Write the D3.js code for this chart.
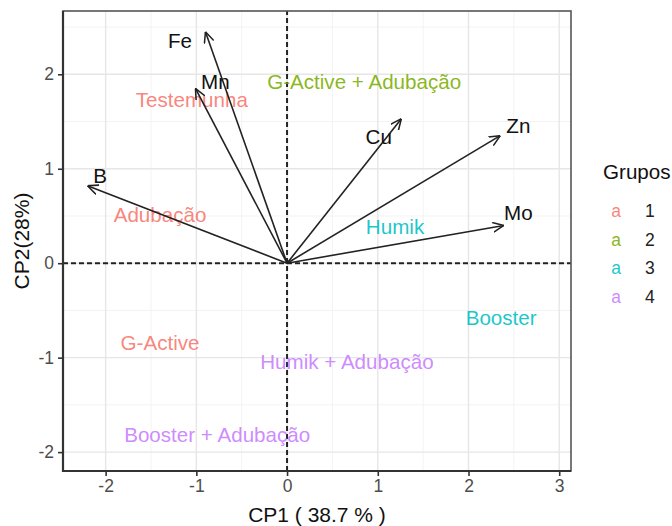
<!DOCTYPE html>
<html>
<head>
<meta charset="utf-8">
<script src="https://cdn.jsdelivr.net/npm/d3@7"></script>
<style>
  body { margin: 0; background: #fff; }
  text { font-family: "Liberation Sans", Arial, sans-serif; }
</style>
</head>
<body>
<svg width="672" height="526"></svg>
<script>
'use strict';

// variaveis (vetores)
var vars = ['Fe', 'Mn', 'B', 'Cu', 'Zn', 'Mo'];
var loadX = [-0.90, -1.01, -2.20, 1.26, 2.35, 2.39];
var loadY = [2.45, 1.85, 0.82, 1.53, 1.35, 0.40];
var varLabX = [-1.18, -0.79, -2.06, 1.01, 2.55, 2.55];
var varLabY = [2.36, 1.92, 0.93, 1.34, 1.46, 0.54];

// tratamentos
var treatments = ['Testemunha', 'Adubação', 'G-Active + Adubação', 'Humik', 'Booster',
    'G-Active', 'Humik + Adubação', 'Booster + Adubação'];
var cp1 = [-1.05, -1.40, 0.85, 1.19, 2.36, -1.40, 0.66, -0.77];
var cp2 = [1.73, 0.51, 1.92, 0.39, -0.58, -0.84, -1.04, -1.81];
var grupo = ['1', '1', '2', '3', '3', '1', '4', '4'];

var grupos = ['1', '2', '3', '4'];
var cores = ['#F8766D', '#7CAE00', '#00BFC4', '#C77CFF'];

var xTicks = [-2, -1, 0, 1, 2, 3];
var yTicks = [-2, -1, 0, 1, 2];
var xMinor = [-1.5, -0.5, 0.5, 1.5, 2.5];
var yMinor = [-1.5, -0.5, 0.5, 1.5, 2.5];

var svg = d3.select('svg');

var x = d3.scaleLinear().domain([-2.47, 3.13]).range([63, 571]);
var y = d3.scaleLinear().domain([-2.2, 2.67]).range([471, 11]);
var cor = d3.scaleOrdinal().domain(grupos).range(cores);

// grade
var grid = svg.append('g');
grid.selectAll('.vmin').data(xMinor).enter().append('line')
    .attr('x1', function (d) { return x(d); }).attr('x2', function (d) { return x(d); })
    .attr('y1', y.range()[0]).attr('y2', y.range()[1])
    .attr('stroke', '#f3f3f3').attr('stroke-width', 1);
grid.selectAll('.hmin').data(yMinor).enter().append('line')
    .attr('y1', function (d) { return y(d); }).attr('y2', function (d) { return y(d); })
    .attr('x1', x.range()[0]).attr('x2', x.range()[1])
    .attr('stroke', '#f3f3f3').attr('stroke-width', 1);
grid.selectAll('.vmaj').data(xTicks).enter().append('line')
    .attr('x1', function (d) { return x(d); }).attr('x2', function (d) { return x(d); })
    .attr('y1', y.range()[0]).attr('y2', y.range()[1])
    .attr('stroke', '#e6e6e6').attr('stroke-width', 1.4);
grid.selectAll('.hmaj').data(yTicks).enter().append('line')
    .attr('y1', function (d) { return y(d); }).attr('y2', function (d) { return y(d); })
    .attr('x1', x.range()[0]).attr('x2', x.range()[1])
    .attr('stroke', '#e6e6e6').attr('stroke-width', 1.4);

// linhas tracejadas em zero
svg.append('line')
    .attr('x1', x(0)).attr('x2', x(0)).attr('y1', y.range()[0]).attr('y2', y.range()[1])
    .attr('stroke', '#222').attr('stroke-width', 2).attr('stroke-dasharray', '5,3');
svg.append('line')
    .attr('y1', y(0)).attr('y2', y(0)).attr('x1', x.range()[0]).attr('x2', x.range()[1])
    .attr('stroke', '#222').attr('stroke-width', 2).attr('stroke-dasharray', '5,3');

// nomes dos tratamentos
svg.append('g')
    .selectAll('text')
    .data(treatments)
    .enter()
    .append('text')
    .text(function (d) { return d; })
    .attr('x', function (d, i) { return x(cp1[i]); })
    .attr('y', function (d, i) { return y(cp2[i]); })
    .attr('dy', '0.36em')
    .attr('text-anchor', 'middle')
    .attr('font-size', '20.6px')
    .attr('fill', function (d, i) { return cor(grupo[i]); })
    .attr('fill-opacity', 0.9);

// setas
svg.append('defs').append('marker')
    .attr('id', 'seta')
    .attr('viewBox', '0 0 10 10')
    .attr('refX', 10).attr('refY', 5)
    .attr('markerUnits', 'userSpaceOnUse')
    .attr('markerWidth', 11).attr('markerHeight', 11)
    .attr('orient', 'auto')
    .append('path')
    .attr('d', 'M0,0.5 L10,5 L0,9.5')
    .attr('fill', 'none')
    .attr('stroke', '#222')
    .attr('stroke-width', 1.4);

svg.append('g')
    .selectAll('line')
    .data(vars)
    .enter()
    .append('line')
    .attr('x1', x(0)).attr('y1', y(0))
    .attr('x2', function (d, i) { return x(loadX[i]); })
    .attr('y2', function (d, i) { return y(loadY[i]); })
    .attr('stroke', '#222')
    .attr('stroke-width', 1.6)
    .attr('marker-end', 'url(#seta)');

svg.append('g')
    .selectAll('text')
    .data(vars)
    .enter()
    .append('text')
    .text(function (d) { return d; })
    .attr('x', function (d, i) { return x(varLabX[i]); })
    .attr('y', function (d, i) { return y(varLabY[i]); })
    .attr('dy', '0.36em')
    .attr('text-anchor', 'middle')
    .attr('font-size', '20.6px')
    .attr('fill', '#111');

// borda do painel
svg.append('rect')
    .attr('x', x.range()[0]).attr('y', y.range()[1])
    .attr('width', x.range()[1] - x.range()[0])
    .attr('height', y.range()[0] - y.range()[1])
    .attr('fill', 'none').attr('stroke', '#555').attr('stroke-width', 1.6);
svg.append('path')
    .attr('d', 'M' + x.range()[0] + ',' + y.range()[1] + ' V' + y.range()[0] + ' H' + x.range()[1])
    .attr('fill', 'none').attr('stroke', '#333').attr('stroke-width', 2.2);

// eixos
var xAxis = svg.append('g')
    .attr('transform', 'translate(0,' + y.range()[0] + ')')
    .call(d3.axisBottom(x).tickValues(xTicks).tickSize(5).tickPadding(4).tickFormat(d3.format('d')));
var yAxis = svg.append('g')
    .attr('transform', 'translate(' + x.range()[0] + ',0)')
    .call(d3.axisLeft(y).tickValues(yTicks).tickSize(5).tickPadding(4).tickFormat(d3.format('d')));
[xAxis, yAxis].forEach(function (a) {
    a.select('.domain').remove();
    a.selectAll('.tick line').attr('stroke', '#333').attr('stroke-width', 1.6);
    a.selectAll('.tick text').attr('font-size', '17.5px').attr('fill', '#4d4d4d')
        .attr('font-family', '"Liberation Sans", Arial, sans-serif');
});
yAxis.selectAll('.tick text').text(function (d) { return d < 0 ? '-' + Math.abs(d) : d; });
xAxis.selectAll('.tick text').text(function (d) { return d < 0 ? '-' + Math.abs(d) : d; });

// titulos dos eixos
svg.append('text')
    .text('CP1 ( 38.7 % )')
    .attr('x', (x.range()[0] + x.range()[1]) / 2)
    .attr('y', 522)
    .attr('text-anchor', 'middle')
    .attr('font-size', '21px')
    .attr('fill', '#111');
svg.append('text')
    .text('CP2(28%)')
    .attr('transform', 'translate(29,' + ((y.range()[0] + y.range()[1]) / 2) + ') rotate(-90)')
    .attr('text-anchor', 'middle')
    .attr('font-size', '21px')
    .attr('fill', '#111');

// legenda
var leg = svg.append('g').attr('transform', 'translate(603,0)');
leg.append('text')
    .text('Grupos')
    .attr('x', 0).attr('y', 172)
    .attr('dy', '0.36em')
    .attr('font-size', '20.6px')
    .attr('fill', '#111');
var item = leg.selectAll('.item')
    .data(grupos)
    .enter()
    .append('g')
    .attr('transform', function (d, i) { return 'translate(0,' + (211 + i * 28.5) + ')'; });
item.append('text')
    .text('a')
    .attr('x', 13).attr('dy', '0.36em')
    .attr('text-anchor', 'middle')
    .attr('font-size', '17.5px')
    .attr('fill', function (d) { return cor(d); })
    .attr('fill-opacity', 0.9);
item.append('text')
    .text(function (d) { return d; })
    .attr('x', 42).attr('dy', '0.36em')
    .attr('font-size', '17.5px')
    .attr('fill', '#222');
</script>
</body>
</html>
